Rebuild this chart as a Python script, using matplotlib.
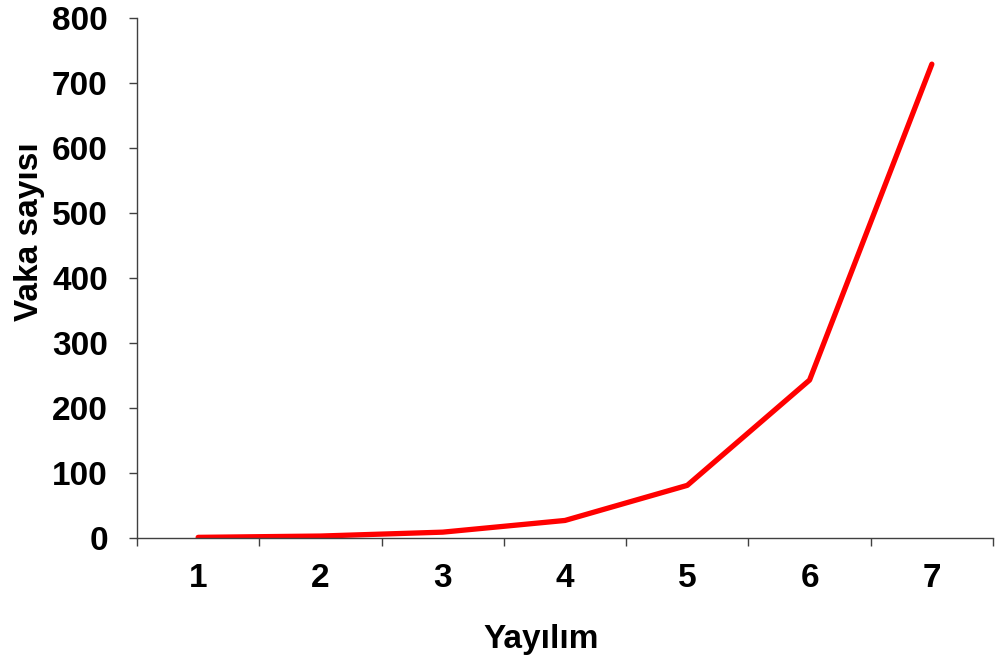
import matplotlib
matplotlib.use("Agg")
import matplotlib.pyplot as plt
from matplotlib.ticker import FixedLocator

categories = [1, 2, 3, 4, 5, 6, 7]
values = [1, 3, 9, 27, 81, 243, 729]
yticks = [0, 100, 200, 300, 400, 500, 600, 700, 800]

plt.rcParams['font.family'] = ['Liberation Sans', 'DejaVu Sans']

fig = plt.figure(figsize=(9.97, 6.63), dpi=100)
ax = fig.add_axes([137/997, (663-538)/663, (993-137)/997, (538-18)/663])

ax.plot(categories, values, color='#FF0000', lw=3.8, solid_capstyle='round', solid_joinstyle='round')

ax.set_xlim(0.5, 7.5)
ax.set_ylim(0, 800)
ax.set_yticks(yticks)
ax.set_xticks(categories)
ax.set_xticklabels([str(c) for c in categories])
ax.xaxis.set_minor_locator(FixedLocator([c + 0.5 for c in [0] + categories]))
ax.tick_params(axis='x', which='major', length=0, pad=18, labelsize=24)
ax.tick_params(axis='x', which='minor', length=6, width=1, color='#404040')
ax.tick_params(axis='y', which='major', length=6, width=1, color='#404040', pad=15, labelsize=24)
for lab in ax.get_xticklabels() + ax.get_yticklabels():
    lab.set_fontweight('bold')

for s in ['top', 'right']:
    ax.spines[s].set_visible(False)
for s in ['left', 'bottom']:
    ax.spines[s].set_color('#404040')
    ax.spines[s].set_linewidth(1)

ax.set_xlabel('Yayılım', fontsize=24, fontweight='bold')
ax.set_ylabel('Vaka sayısı', fontsize=24, fontweight='bold')
ax.xaxis.set_label_coords(0.472, -0.166)
ax.yaxis.set_label_coords(-0.108, 0.590)

fig.savefig('out.png', dpi=100)
